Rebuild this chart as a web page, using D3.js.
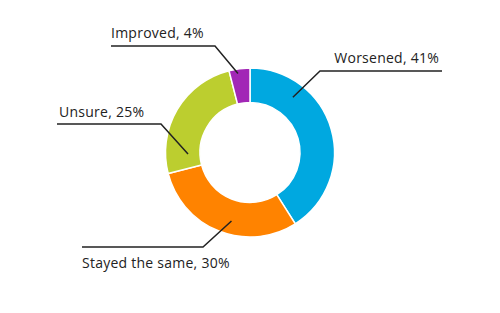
<!DOCTYPE html>
<html><head><meta charset="utf-8">
<script src="https://cdn.jsdelivr.net/npm/d3@7"></script>
<style>body{margin:0;background:#fff}svg{display:block}text{font-family:"Open Sans",sans-serif;font-size:14px;letter-spacing:0.25px;fill:#222}</style>
</head><body>
<svg id="c" width="500" height="313"></svg>
<script>
const categories = ["Worsened", "Stayed the same", "Unsure", "Improved"];
const values = [41, 30, 25, 4];
const colors = ["#00A8E0", "#FF8300", "#BCCE2F", "#A227B6"];

// label layout: anchor angle fraction within slice, radius, elbow & text placement
const labelLayout = [
  {f: 0.256, r: 70, elbow: [320, 71], end: [442, 71], tx: 439, ty: 63, anchor: "end"},
  {f: 0.44, r: 71, elbow: [203, 247], end: [82, 247], tx: 82, ty: 268, anchor: "start"},
  {f: 0.145, r: 62, elbow: [161, 124], end: [57, 124], tx: 59, ty: 117, anchor: "start"},
  {f: 0.4, r: 80, elbow: [215, 46], end: [111, 46], tx: 111, ty: 38, anchor: "start"}
];

const svg = d3.select("#c");
const cx = 250, cy = 152.5, R = 84.5, r0 = 50;
const g = svg.append("g").attr("transform", `translate(${cx},${cy})`);
const pie = d3.pie().sort(null).value(d => d);
const arcs = pie(values);
const arc = d3.arc().innerRadius(r0).outerRadius(R);
g.selectAll("path.slice").data(arcs).join("path")
  .attr("class", "slice")
  .attr("d", arc)
  .attr("fill", (d, i) => colors[i])
  .attr("stroke", "#fff").attr("stroke-width", 1.5);

arcs.forEach((a, i) => {
  const L = labelLayout[i];
  const ang = a.startAngle + L.f * (a.endAngle - a.startAngle);
  const p = d3.pointRadial(ang, L.r);
  const pts = [[p[0] + cx, p[1] + cy], L.elbow, L.end];
  svg.append("path").attr("d", d3.line()(pts))
    .attr("fill", "none").attr("stroke", "#222").attr("stroke-width", 1.5);
  svg.append("text").attr("x", L.tx).attr("y", L.ty).attr("text-anchor", L.anchor)
    .text(`${categories[i]}, ${values[i]}%`);
});
</script>
</body></html>
